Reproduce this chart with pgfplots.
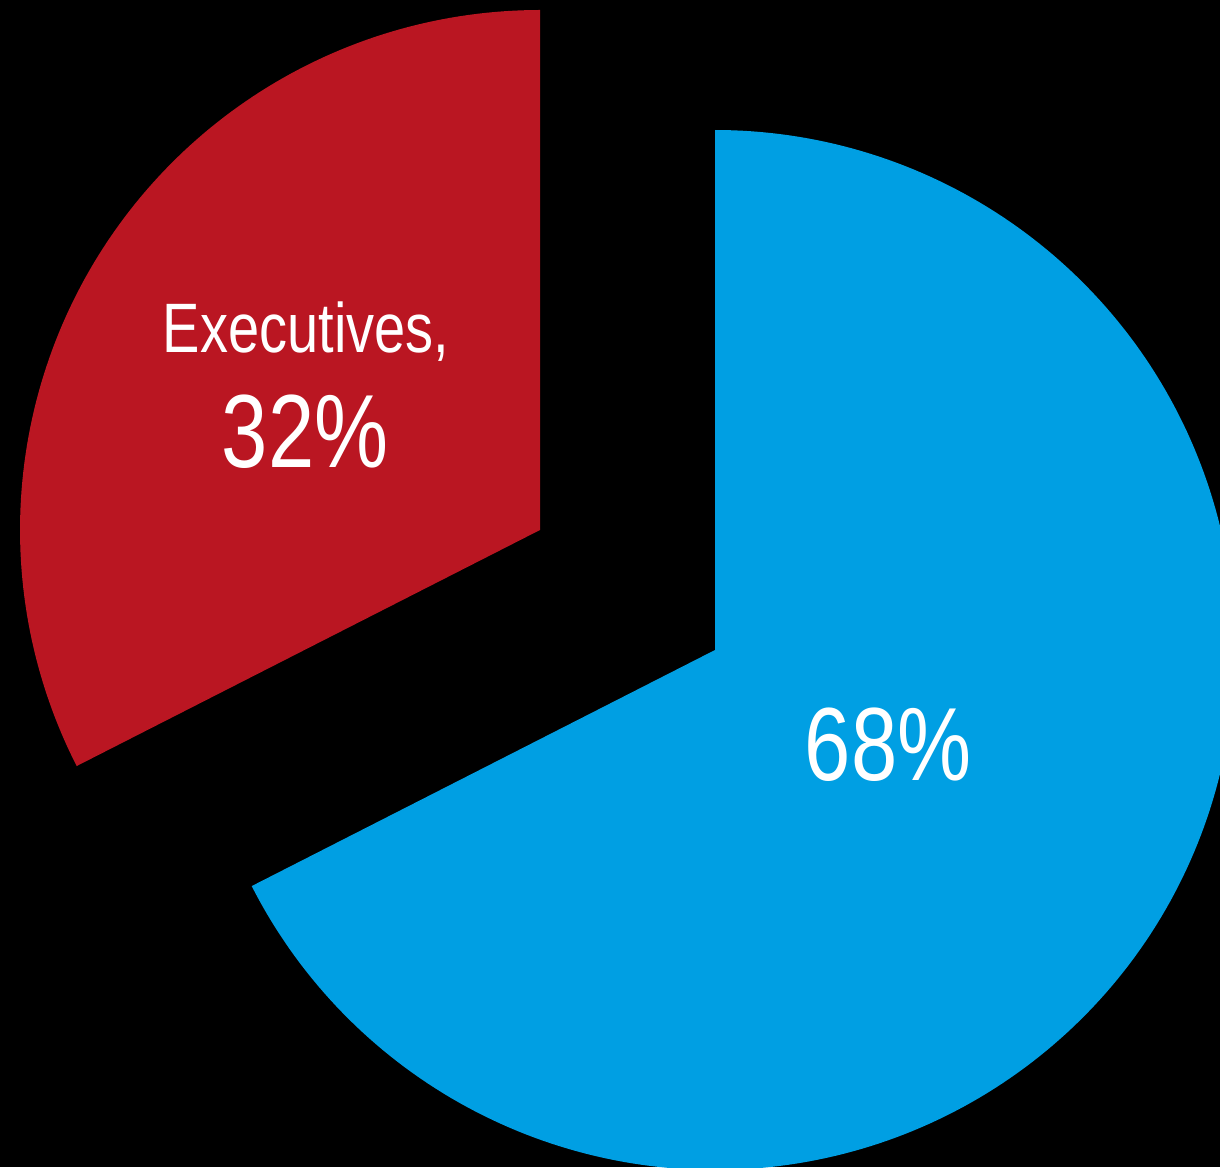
\documentclass[border=0pt]{standalone}
\usepackage{pgfplots}
\pgfplotsset{compat=1.18}
\usepackage{fontspec}
\newfontfamily\cond[FakeStretch=0.8]{Liberation Sans}
\definecolor{exred}{HTML}{BA1622}
\definecolor{piblue}{HTML}{009FE3}
% shares (percent) as drawn in the reference
\def\vExec{32.5}
\def\vOther{67.5}
\pgfmathsetmacro{\aEnd}{90+3.6*\vExec}
\pgfmathsetmacro{\bStart}{\aEnd-360}
\begin{document}
\begin{tikzpicture}
\begin{axis}[width=305pt,height=291.75pt,scale only axis,
  xmin=0,xmax=1220,ymin=0,ymax=1167,hide axis,clip=true]
\fill[black] (rel axis cs:0,0) rectangle (rel axis cs:1,1);
\addplot[draw=none, fill=piblue, domain=\bStart:90, samples=240, variable=\t]
  ({715+520*cos(t)},{517+520*sin(t)}) -- (axis cs:715,517) -- cycle;
\addplot[draw=none, fill=exred, domain=90:\aEnd, samples=120, variable=\t]
  ({540+520*cos(t)},{637+520*sin(t)}) -- (axis cs:540,637) -- cycle;
\node[text=white, font=\cond\fontsize{17.5}{20}\selectfont] at (axis cs:306,835) {Executives,};
\node[text=white, font=\cond\fontsize{26}{30}\selectfont] at (axis cs:305,735) {32\%};
\node[text=white, font=\cond\fontsize{26}{30}\selectfont] at (axis cs:888,422) {68\%};
\end{axis}
\end{tikzpicture}
\end{document}
